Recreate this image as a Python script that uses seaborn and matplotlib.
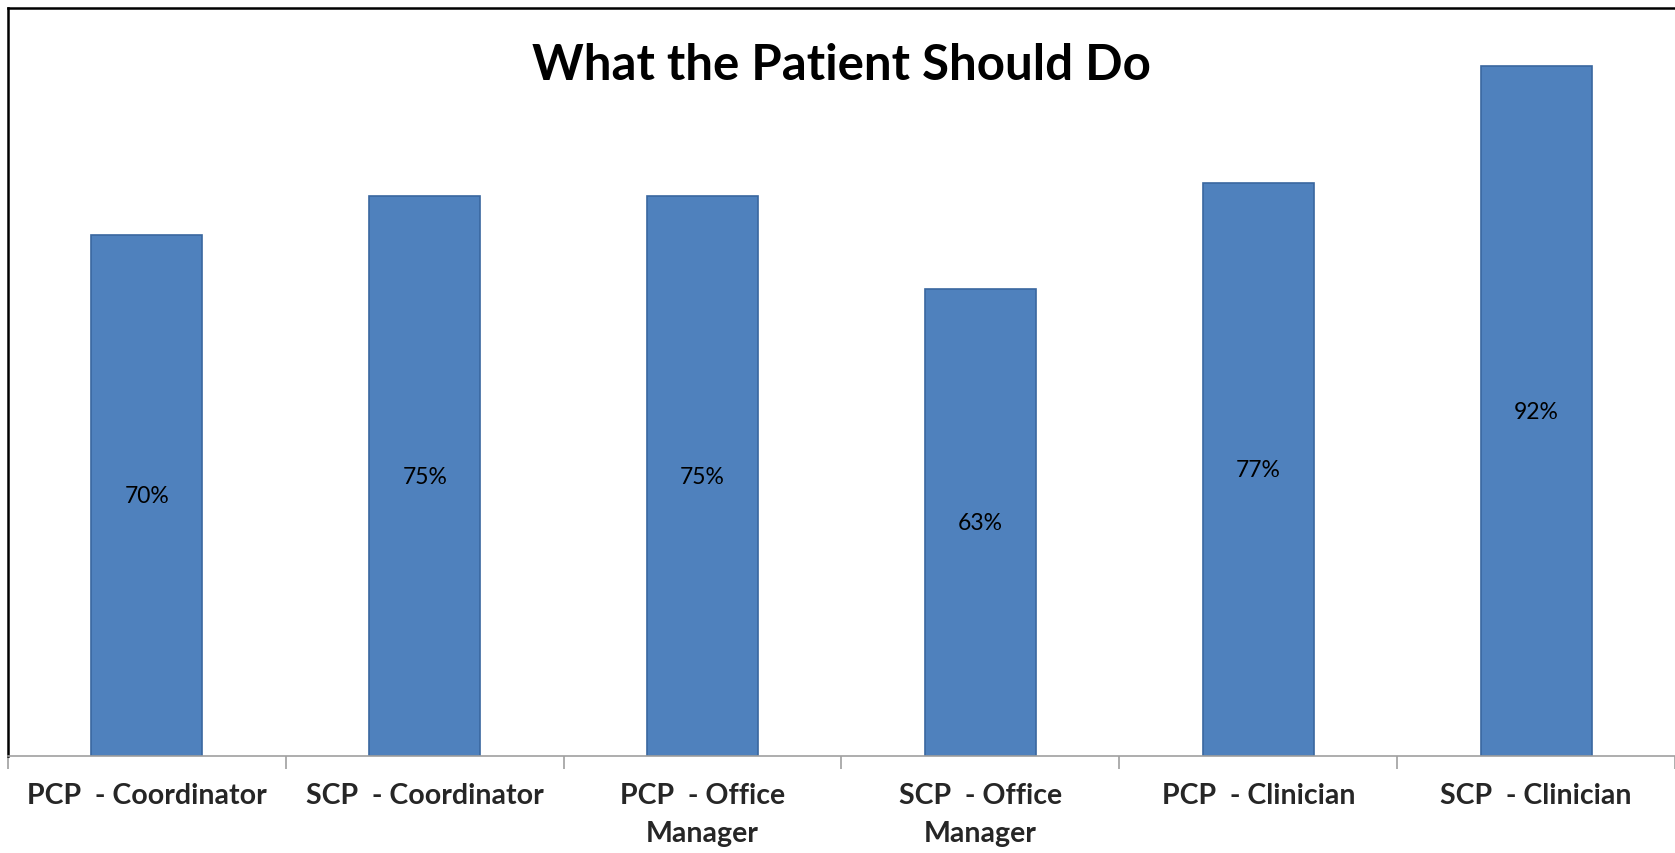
import matplotlib
matplotlib.use("Agg")
import matplotlib.pyplot as plt
import seaborn as sns
import pandas as pd
import numpy as np

categories = ["PCP  - Coordinator", "SCP  - Coordinator", "PCP  - Office\nManager",
              "SCP  - Office\nManager", "PCP  - Clinician", "SCP  - Clinician"]
values = [0.697, 0.748, 0.748, 0.625, 0.766, 0.922]
value_labels = ["70%", "75%", "75%", "63%", "77%", "92%"]
title = "What the Patient Should Do"

sns.set_theme(style="white")
plt.rcParams['font.family'] = ['Lato', 'DejaVu Sans']

df = pd.DataFrame({"cat": categories, "val": values})

fig = plt.figure(figsize=(16.75, 8.54), dpi=100)
ax = fig.add_axes([8/1675, 1 - 757/854, 1 - 8/1675, (757 - 9)/854])

sns.barplot(data=df, x="cat", y="val", ax=ax, color="#4F81BD", width=0.4,
            edgecolor="#3A67A0", linewidth=1.2, saturation=1)

ax.set_ylim(0, 1.0)
ax.set_xlim(-0.5, len(categories) - 0.5)
ax.set_xlabel("")
ax.set_ylabel("")
ax.set_yticks([])

for i, (v, lab) in enumerate(zip(values, value_labels)):
    ax.text(i, v / 2, lab, ha="center", va="center", fontsize=16.5, color="black")

ax.set_xticks(range(len(categories)))
ax.set_xticklabels(categories, fontsize=20.5, fontweight="bold", linespacing=1.55)
ax.tick_params(axis="x", which="major", length=0, pad=19)
ax.set_xticks(np.arange(-0.5, len(categories), 1.0), minor=True)
ax.tick_params(axis="x", which="minor", length=9, width=1.2, color="#A0A0A0", bottom=True)

for s in ["left", "top"]:
    ax.spines[s].set_visible(True)
    ax.spines[s].set_color("black")
    ax.spines[s].set_linewidth(1.8)
ax.spines["bottom"].set_color("#A0A0A0")
ax.spines["bottom"].set_linewidth(1.2)
ax.spines["right"].set_visible(False)

ax.text(0.5, 1 - (66 - 9) / 748, title, transform=ax.transAxes, ha="center", va="center",
        fontsize=35.5, fontweight="bold", color="black")

fig.savefig("out.png", dpi=100)
